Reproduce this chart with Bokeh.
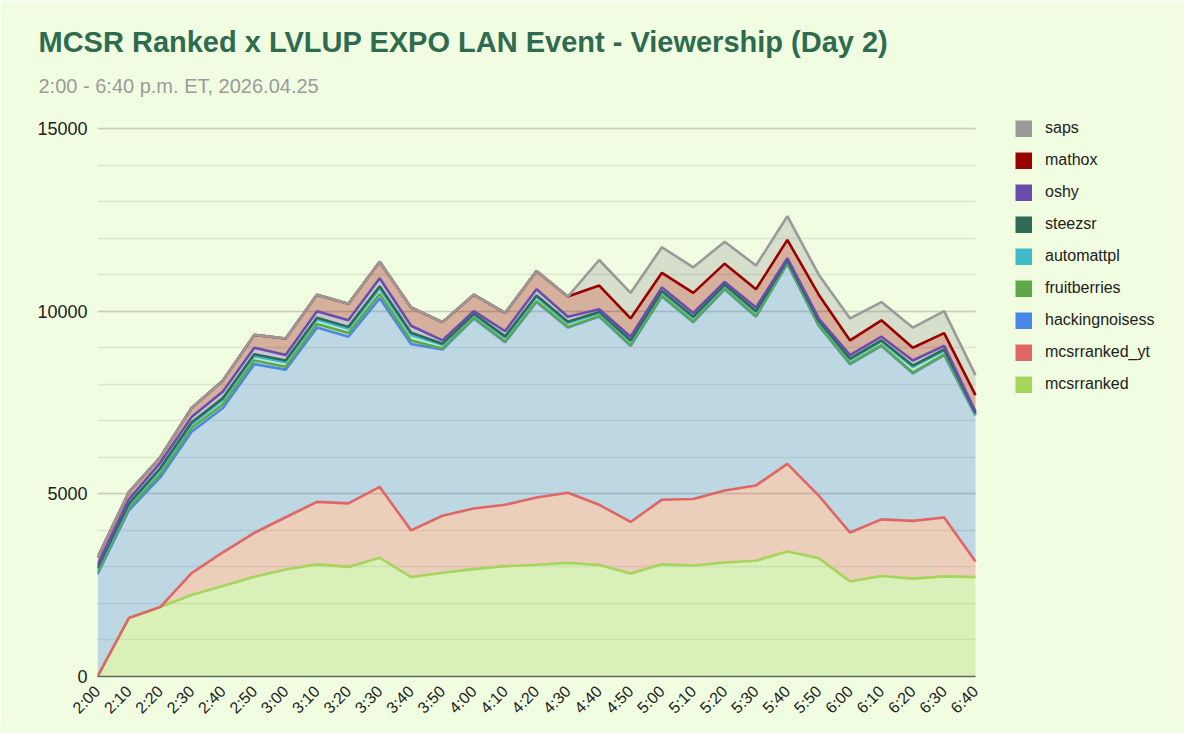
import math
import traceback
import numpy as np
from bokeh.plotting import figure
from bokeh.models import (Range1d, FixedTicker, Label, Legend, LegendItem,
                          ColumnDataSource, Title)
from bokeh.embed import file_html
from bokeh.resources import INLINE

times = ["2:00", "2:10", "2:20", "2:30", "2:40", "2:50", "3:00", "3:10", "3:20", "3:30",
         "3:40", "3:50", "4:00", "4:10", "4:20", "4:30", "4:40", "4:50", "5:00", "5:10",
         "5:20", "5:30", "5:40", "5:50", "6:00", "6:10", "6:20", "6:30", "6:40"]

mcsrranked = [0, 1600, 1900, 2230, 2480, 2730, 2930, 3070, 3000, 3250, 2720, 2840, 2940, 3020,
              3060, 3110, 3050, 2820, 3070, 3040, 3120, 3170, 3420, 3240, 2600, 2750, 2680, 2740, 2720]
mcsrranked_yt = [0, 0, 0, 600, 920, 1200, 1430, 1710, 1740, 1940, 1280, 1560, 1660, 1680,
                 1840, 1920, 1650, 1410, 1770, 1820, 1970, 2060, 2400, 1710, 1340, 1550, 1580, 1610, 430]
hackingnoisess = [2800, 2950, 3550, 3870, 3950, 4620, 4040, 4770, 4560, 5160, 5100, 4550, 5200, 4450,
                  5350, 4520, 5150, 4820, 5560, 4840, 5510, 4620, 5480, 4650, 4610, 4750, 4040, 4450, 4000]
fruitberries = [50, 60, 80, 100, 100, 100, 80, 100, 100, 120, 100, 30, 20, 20,
                20, 20, 20, 20, 20, 20, 20, 20, 10, 20, 20, 20, 20, 20, 10]
automattpl = [80, 80, 120, 100, 120, 120, 120, 120, 120, 150, 150, 100, 80, 100,
              120, 100, 80, 100, 100, 100, 80, 100, 60, 80, 100, 100, 150, 100, 30]
steezsr = [40, 40, 50, 50, 50, 50, 50, 50, 50, 60, 60, 30, 30, 40,
           40, 40, 30, 30, 30, 30, 30, 30, 20, 30, 30, 30, 40, 30, 20]
oshy = [80, 120, 150, 150, 180, 180, 150, 180, 180, 220, 190, 90, 70, 140,
        170, 140, 70, 100, 100, 100, 70, 100, 60, 70, 100, 100, 140, 100, 40]
mathox = [200, 200, 150, 250, 300, 350, 450, 450, 450, 450, 500, 500, 450, 500,
          500, 550, 650, 500, 400, 550, 500, 500, 500, 650, 400, 450, 350, 350, 450]
saps = [0, 0, 0, 0, 0, 0, 0, 0, 0, 0, 0, 0, 0, 0,
        0, 0, 700, 700, 700, 700, 600, 650, 650, 550, 600, 500, 550, 600, 550]

series_names = ["mcsrranked", "mcsrranked_yt", "hackingnoisess", "fruitberries",
                "automattpl", "steezsr", "oshy", "mathox", "saps"]
series_values = [mcsrranked, mcsrranked_yt, hackingnoisess, fruitberries,
                 automattpl, steezsr, oshy, mathox, saps]
colors = ["#a5d55c", "#e06666", "#4a86e8", "#5fa84a", "#3fbcc8",
          "#2e6b57", "#6a4cad", "#990000", "#9a9a9a"]

y_ticks = [0, 5000, 10000, 15000]
y_minor = list(range(0, 15001, 1000))

BG = "#f0fde0"
FONT = "Liberation Sans"

W, H = 1184, 733
FL, FT, FB = 97, 118, 676       # frame edges (frame spans to the right edge)
X_END_PX, Y_TOP_PX = 975, 128    # where the last category and 15000 sit
n_int = len(times) - 1
x_end = n_int * (W - FL) / (X_END_PX - FL)
y_end = y_ticks[-1] * (FB - FT) / (FB - Y_TOP_PX)

p = figure(width=W, height=H, x_range=Range1d(0, x_end), y_range=Range1d(0, y_end),
           output_backend="svg", toolbar_location=None,
           min_border_left=FL, min_border_right=0, min_border_top=FT,
           min_border_bottom=H - FB)
p.title.visible = False
p.background_fill_color = BG
p.border_fill_color = BG
p.outline_line_color = None

errors = []

data = {"x": list(range(len(times)))}
for n, v in zip(series_names, series_values):
    data[n] = v
cum = np.cumsum(np.array(series_values, dtype=float), axis=0)
for n, c in zip(series_names, cum):
    data[n + "_top"] = c
source = ColumnDataSource(data)

p.xgrid.grid_line_color = None
try:
    p.ygrid.cross_bounds = (0, n_int)
    p.ygrid.grid_line_color = "#c6cdb8"
    p.ygrid.grid_line_width = 1.5
    p.ygrid.minor_grid_line_color = "#dce5cd"
    p.ygrid.minor_grid_line_width = 1.5
except Exception:
    p.ygrid.grid_line_color = None
    p.segment(x0=[0] * len(y_minor), x1=[n_int] * len(y_minor), y0=y_minor, y1=y_minor,
              line_color="#dce5cd", line_width=1.5, level="underlay")
    p.segment(x0=[0] * len(y_ticks), x1=[n_int] * len(y_ticks), y0=y_ticks, y1=y_ticks,
              line_color="#c6cdb8", line_width=1.5, level="underlay")

areas = p.varea_stack(stackers=series_names, x="x", color=colors, fill_alpha=0.3, source=source)
for n, c in zip(series_names, colors):
    p.line(x="x", y=n + "_top", line_color=c, line_width=2.6, source=source)

p.yaxis.ticker = FixedTicker(ticks=y_ticks, minor_ticks=y_minor)
p.yaxis.axis_line_color = None
p.yaxis.major_tick_line_color = None
p.yaxis.minor_tick_line_color = None
p.yaxis.major_tick_out = 0
p.yaxis.minor_tick_out = 0
p.yaxis.major_label_text_font = FONT
p.yaxis.major_label_text_font_size = "18px"
p.yaxis.major_label_text_color = "#222222"
p.yaxis.major_label_standoff = 10

p.xaxis.ticker = FixedTicker(ticks=list(range(len(times))))
p.xaxis.bounds = (0, n_int)
p.xaxis.major_label_overrides = {i: t for i, t in enumerate(times)}
p.xaxis.major_label_orientation = math.pi / 4
p.xaxis.axis_line_color = "#5f6b55"
p.xaxis.axis_line_width = 1.5
p.xaxis.major_tick_line_color = None
p.xaxis.minor_tick_line_color = None
p.xaxis.major_tick_out = 0
p.xaxis.minor_tick_out = 0
p.xaxis.major_label_text_font = FONT
p.xaxis.major_label_text_font_size = "16px"
p.xaxis.major_label_text_color = "#222222"
p.xaxis.major_label_standoff = 12

try:
    p.add_layout(Title(text="2:00 - 6:40 p.m. ET, 2026.04.25", align="left", offset=38 - FL,
                       standoff=43, text_font=FONT, text_font_size="20px",
                       text_font_style="normal", text_color="#9b9b9b"), "above")
    p.add_layout(Title(text="MCSR Ranked x LVLUP EXPO LAN Event - Viewership (Day 2)",
                       align="left", offset=38 - FL, standoff=-13,
                       text_font=FONT, text_font_size="29px", text_font_style="bold",
                       text_color="#2e6b4f"), "above")
except Exception:
    errors.append(traceback.format_exc())

try:
    proxies = [p.line(x=[np.nan], y=[np.nan], line_color=c, line_width=17) for c in colors]
    items = [LegendItem(label=n, renderers=[r]) for n, r in zip(series_names, proxies)][::-1]
    legend_h = 9 * 18 + 8 * 14
    legend = Legend(items=items, location=(1015 - FL, (FB - 119) - legend_h),
                    padding=0, margin=0, spacing=14, glyph_width=17, glyph_height=17,
                    label_height=17, label_standoff=13, label_text_font=FONT,
                    label_text_font_size="16px", label_text_color="#222222",
                    border_line_color=None, background_fill_alpha=0)
    p.add_layout(legend)
except Exception:
    errors.append(traceback.format_exc())

for k, e in enumerate(errors):
    lines_e = e.strip().splitlines()[-3:]
    for j, ln in enumerate(lines_e):
        p.add_layout(Label(x=10, y=500 - 20 * (k * 4 + j), x_units="screen", y_units="screen",
                           text=ln[:120], text_font_size="11px", text_color="red"))

open("out.html", "w").write(file_html(p, INLINE))
